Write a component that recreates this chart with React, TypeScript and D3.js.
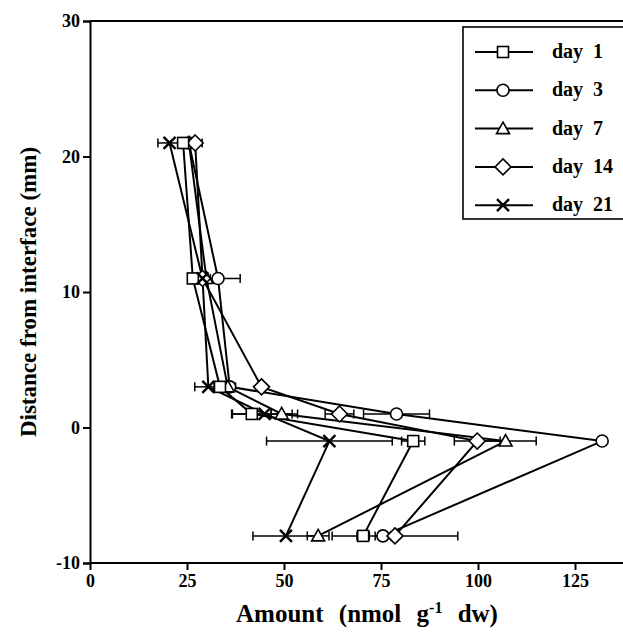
import React, { useEffect, useRef } from 'react';
import * as d3 from 'd3';

// depth of each sample (mm from interface)
const depths = [21, 11, 3, 1, -1, -8];

// amounts (nmol g-1 dw), one per depth
const day1 = [24, 26.5, 33.5, 41.7, 83.3, 70.4];
const day1Err = [1, 1, 1.5, 5, 3, 1.6];
const day3 = [25.5, 33, 36, 79, 132, 75.5];
const day3Err = [1, 5.7, 1.5, 8.5, 0, 2];
const day7 = [25.5, 30, 35.5, 49.4, 107.1, 58.8];
const day7Err = [1, 1, 1.5, 2.7, 7.9, 2.8];
const day14 = [27.1, 29, 44.2, 64.3, 99.8, 78.6];
const day14Err = [1.8, 1, 1, 3.7, 5.9, 16.2];
const day21 = [20.5, 29, 30.5, 45, 61.7, 50.5];
const day21Err = [3, 1, 3.5, 8.5, 16.2, 8.5];

const seriesLabels = ['1', '3', '7', '14', '21'];
const markerTypes = ['square', 'circle', 'triangle', 'diamond', 'cross'];

const xTicks = [0, 25, 50, 75, 100, 125];
const yTicks = [-10, 0, 10, 20, 30];

const FONT = '"Liberation Serif", "Times New Roman", serif';

const drawMarker = (g, type, cx, cy) => {
  const m = g.append('g').attr('transform', `translate(${cx},${cy})`);
  if (type === 'square') {
    m.append('rect')
      .attr('x', -5.5)
      .attr('y', -5.5)
      .attr('width', 11)
      .attr('height', 11)
      .attr('fill', '#fff')
      .attr('stroke', '#000')
      .attr('stroke-width', 1.6);
  } else if (type === 'circle') {
    m.append('circle')
      .attr('r', 6)
      .attr('fill', '#fff')
      .attr('stroke', '#000')
      .attr('stroke-width', 1.6);
  } else if (type === 'triangle') {
    m.append('path')
      .attr('d', 'M0,-6.5L6.5,5L-6.5,5Z')
      .attr('fill', '#fff')
      .attr('stroke', '#000')
      .attr('stroke-width', 1.6);
  } else if (type === 'diamond') {
    m.append('path')
      .attr('d', 'M0,-8L8,0L0,8L-8,0Z')
      .attr('fill', '#fff')
      .attr('stroke', '#000')
      .attr('stroke-width', 1.6);
  } else {
    m.append('path')
      .attr('d', 'M-6,-6L6,6M-6,6L6,-6')
      .attr('stroke', '#000')
      .attr('stroke-width', 2.4);
  }
};

export default function App() {
  const svgRef = useRef(null);

  useEffect(() => {
    const svg = d3.select(svgRef.current);
    svg.selectAll('*').remove();

    const x = d3.scaleLinear().domain([0, 125]).range([90, 575]);
    const y = d3.scaleLinear().domain([-10, 30]).range([563, 21]);

    const series = [
      { values: day1, err: day1Err },
      { values: day3, err: day3Err },
      { values: day7, err: day7Err },
      { values: day14, err: day14Err },
      { values: day21, err: day21Err }
    ];

    // frame: top line and axes
    svg
      .append('line')
      .attr('x1', 90)
      .attr('x2', 630)
      .attr('y1', y(30))
      .attr('y2', y(30))
      .attr('stroke', '#000')
      .attr('stroke-width', 2);

    const yAxis = svg
      .append('g')
      .attr('transform', 'translate(90,0)')
      .call(
        d3
          .axisLeft(y)
          .tickValues(yTicks)
          .tickSize(7)
          .tickPadding(3)
          .tickFormat(d => String(d))
      );
    yAxis.attr('font-family', FONT);
    yAxis.select('.domain').attr('stroke-width', 2);
    yAxis.selectAll('.tick line').attr('stroke-width', 2);
    yAxis
      .selectAll('.tick text')
      .attr('font-family', FONT)
      .attr('font-weight', 'bold')
      .attr('font-size', 18)
      .attr('fill', '#000');

    const xAxis = svg
      .append('g')
      .attr('transform', `translate(0,${y(-10)})`)
      .call(
        d3
          .axisBottom(x)
          .tickValues(xTicks)
          .tickSize(7)
          .tickPadding(4)
          .tickFormat(d => String(d))
      );
    xAxis.attr('font-family', FONT);
    xAxis.select('.domain').remove();
    xAxis
      .append('line')
      .attr('x1', 90)
      .attr('x2', 630)
      .attr('stroke', '#000')
      .attr('stroke-width', 2);
    xAxis.selectAll('.tick line').attr('stroke-width', 2);
    xAxis
      .selectAll('.tick text')
      .attr('font-family', FONT)
      .attr('font-weight', 'bold')
      .attr('font-size', 18)
      .attr('fill', '#000');

    // axis titles
    svg
      .append('text')
      .attr('transform', `translate(36,${(y(30) + y(-10)) / 2}) rotate(-90)`)
      .attr('text-anchor', 'middle')
      .attr('font-family', FONT)
      .attr('font-weight', 'bold')
      .attr('font-size', 23)
      .text('Distance from interface (mm)');

    const xt = svg
      .append('text')
      .attr('x', 367)
      .attr('y', 622)
      .attr('text-anchor', 'middle')
      .attr('font-family', FONT)
      .attr('font-weight', 'bold')
      .attr('font-size', 25)
      .attr('word-spacing', 9);
    xt.append('tspan').text('Amount (nmol g');
    xt.append('tspan').attr('dy', -9).attr('font-size', 16).text('-1');
    xt.append('tspan').attr('dy', 9).text(' dw)');

    const line = d3
      .line()
      .x(d => x(d[0]))
      .y(d => y(d[1]));

    // connecting lines and error bars
    series.forEach(s => {
      const pts = s.values.map((v, i) => [v, depths[i]]);
      svg
        .append('path')
        .attr('d', line(pts))
        .attr('fill', 'none')
        .attr('stroke', '#000')
        .attr('stroke-width', 2);

      s.values.forEach((v, i) => {
        const e = s.err[i];
        if (!e) return;
        const cy = y(depths[i]);
        const eg = svg.append('g').attr('stroke', '#000').attr('stroke-width', 1.5);
        eg.append('line')
          .attr('x1', x(v - e))
          .attr('x2', x(v + e))
          .attr('y1', cy)
          .attr('y2', cy);
        [v - e, v + e].forEach(c => {
          eg.append('line')
            .attr('x1', x(c))
            .attr('x2', x(c))
            .attr('y1', cy - 4.5)
            .attr('y2', cy + 4.5);
        });
      });
    });

    // markers, drawn in an order so the overlaps look like the figure
    [1, 2, 3, 0, 4].forEach(k => {
      const s = series[k];
      s.values.forEach((v, i) => drawMarker(svg, markerTypes[k], x(v), y(depths[i])));
    });

    // legend
    const lg = svg.append('g');
    lg.append('rect')
      .attr('x', 463)
      .attr('y', 27)
      .attr('width', 170)
      .attr('height', 192)
      .attr('fill', '#fff')
      .attr('stroke', '#000')
      .attr('stroke-width', 1.6);

    seriesLabels.forEach((lab, k) => {
      const ly = 52 + k * 38.3;
      lg.append('line')
        .attr('x1', 475)
        .attr('x2', 533)
        .attr('y1', ly)
        .attr('y2', ly)
        .attr('stroke', '#000')
        .attr('stroke-width', 2);
      drawMarker(lg, markerTypes[k], 503, ly);
      lg.append('text')
        .attr('x', 552)
        .attr('y', ly + 6)
        .attr('font-family', FONT)
        .attr('font-weight', 'bold')
        .attr('font-size', 20)
        .text('day');
      lg.append('text')
        .attr('x', 593)
        .attr('y', ly + 6)
        .attr('font-family', FONT)
        .attr('font-weight', 'bold')
        .attr('font-size', 20)
        .text(lab);
    });
  }, []);

  return (
    <div style={{ position: 'absolute', left: 0, top: 0 }}>
      <svg ref={svgRef} width={623} height={638} style={{ display: 'block' }} />
    </div>
  );
}
